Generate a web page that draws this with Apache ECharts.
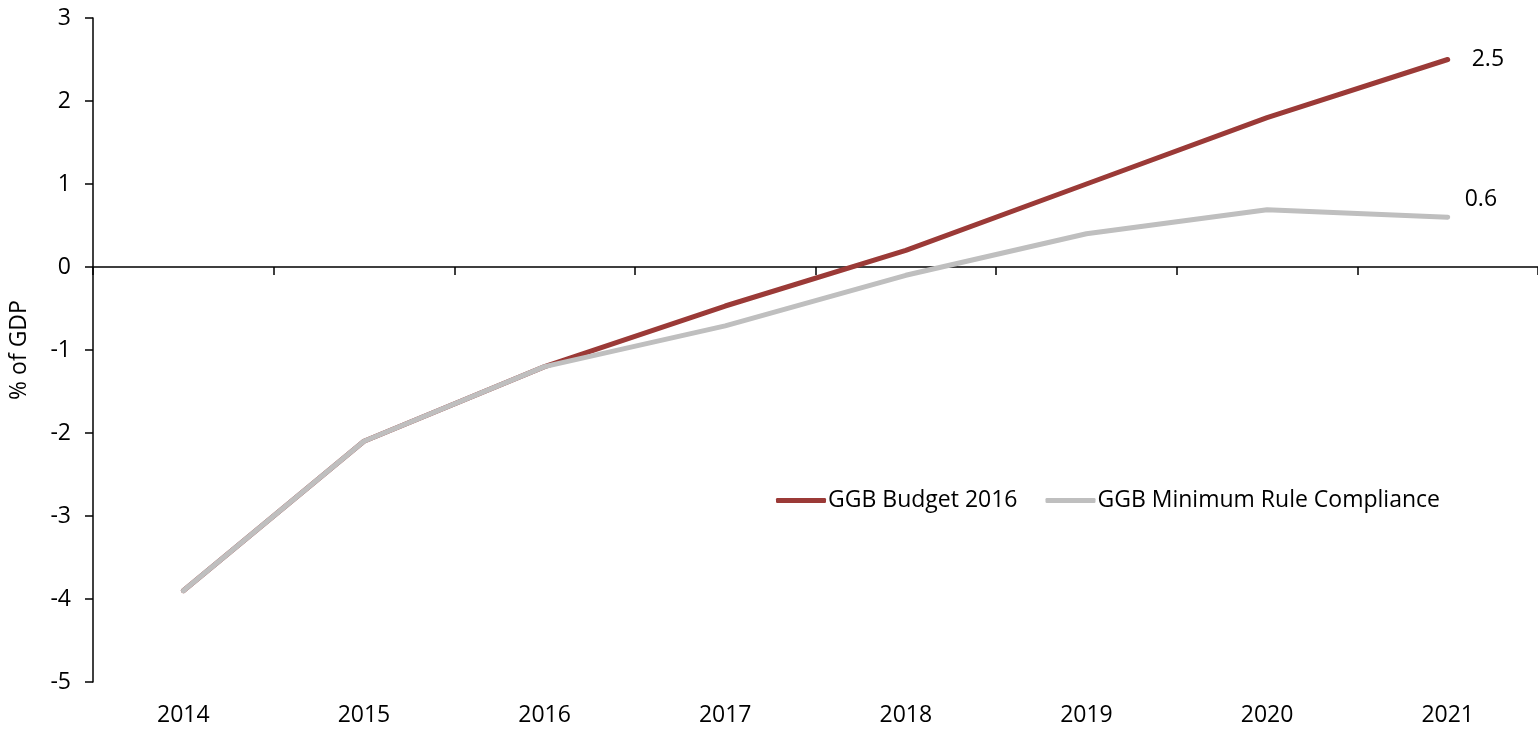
<!DOCTYPE html>
<html>
<head>
<meta charset="utf-8">
<script src="https://cdn.jsdelivr.net/npm/echarts@6/dist/echarts.min.js"></script>
<style>
  html, body { margin: 0; padding: 0; background: #ffffff; }
  #chart { width: 1538px; height: 731px; }
</style>
</head>
<body>
<div id="chart"></div>
<script>
// General government balance, % of GDP
const years = ['2014', '2015', '2016', '2017', '2018', '2019', '2020', '2021'];
const budget2016 = [-3.9, -2.1, -1.2, -0.47, 0.2, 1.0, 1.8, 2.5];
const minRuleCompliance = [-3.9, -2.1, -1.2, -0.71, -0.1, 0.4, 0.69, 0.6];
const seriesNames = ['GGB Budget 2016', 'GGB Minimum Rule Compliance'];
const yAxisTitle = '% of GDP';

const FONT = 'Open Sans';
const FS = 23;
const chart = echarts.init(document.getElementById('chart'));

chart.setOption({
  animation: false,
  backgroundColor: '#ffffff',
  textStyle: { fontFamily: FONT, color: '#000' },
  grid: { left: 91, right: 0, top: 18, bottom: 49 },
  legend: {
    left: 771,
    top: 484,
    itemWidth: 50,
    itemHeight: 5,
    itemGap: 28,
    icon: 'roundRect',
    textStyle: { fontFamily: FONT, fontSize: FS, color: '#000', padding: [0, 0, 0, -3] },
    data: seriesNames
  },
  xAxis: [
    {
      // zero line with its tick marks
      type: 'category',
      data: years,
      boundaryGap: true,
      position: 'bottom',
      axisLine: { onZero: true, lineStyle: { color: '#000', width: 1.5 } },
      axisTick: { show: true, length: 8, inside: false, lineStyle: { color: '#000', width: 1.5 } },
      axisLabel: { show: false },
      splitLine: { show: false }
    },
    {
      // year labels along the bottom
      type: 'category',
      data: years,
      boundaryGap: true,
      position: 'bottom',
      axisLine: { show: false, onZero: false },
      axisTick: { show: false },
      axisLabel: { show: true, margin: 22, fontFamily: FONT, fontSize: FS, color: '#000' },
      splitLine: { show: false }
    }
  ],
  yAxis: {
    type: 'value',
    min: -5,
    max: 3,
    interval: 1,
    name: yAxisTitle,
    nameLocation: 'middle',
    nameGap: 62,
    nameRotate: 90,
    nameTextStyle: { fontFamily: FONT, fontSize: FS, color: '#000' },
    axisLine: { show: true, lineStyle: { color: '#000', width: 1.5 } },
    axisTick: { show: true, length: 8, lineStyle: { color: '#000', width: 1.5 } },
    axisLabel: { margin: 22, fontFamily: FONT, fontSize: FS, color: '#000' },
    splitLine: { show: false }
  },
  series: [
    {
      name: seriesNames[0],
      type: 'line',
      xAxisIndex: 0,
      data: budget2016,
      symbol: 'none',
      lineStyle: { color: '#9b3a37', width: 5, cap: 'round', join: 'round' },
      itemStyle: { color: '#9b3a37' },
      endLabel: {
        show: true,
        distance: 24,
        offset: [0, 0],
        formatter: p => p.value.toFixed(1),
        fontFamily: FONT, fontSize: FS, color: '#000'
      }
    },
    {
      name: seriesNames[1],
      type: 'line',
      xAxisIndex: 0,
      data: minRuleCompliance,
      symbol: 'none',
      lineStyle: { color: '#bfbfbf', width: 5, cap: 'round', join: 'round' },
      itemStyle: { color: '#bfbfbf' },
      endLabel: {
        show: true,
        distance: 17,
        offset: [0, -18],
        formatter: p => p.value.toFixed(1),
        fontFamily: FONT, fontSize: FS, color: '#000'
      }
    }
  ]
});
</script>
</body>
</html>
